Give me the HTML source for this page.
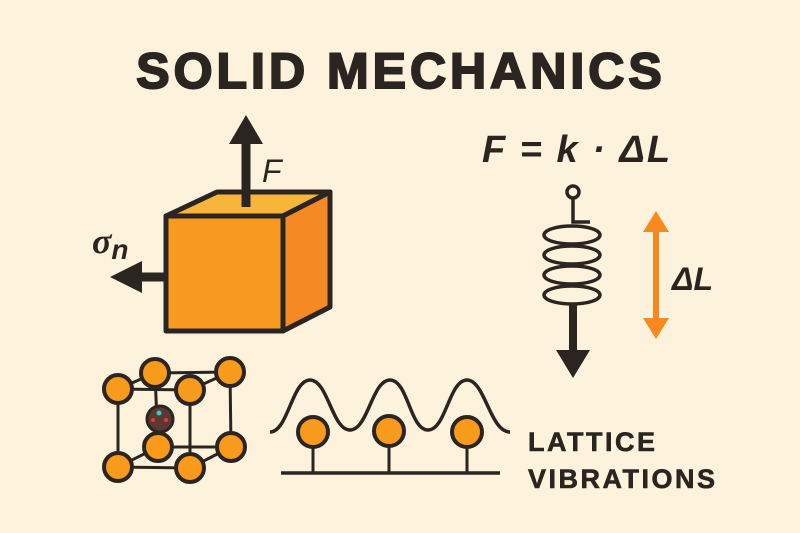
<!DOCTYPE html>
<html><head><style>html,body{margin:0;padding:0;background:#fdf2dc}svg{display:block}</style></head><body>
<svg width="800" height="533" viewBox="0 0 800 533" xmlns="http://www.w3.org/2000/svg">
<rect width="800" height="533" fill="#fdf2dc"/>
<text x="401" y="88" text-anchor="middle" font-family="Liberation Sans, sans-serif" font-weight="900" font-size="50" fill="#2b2522" letter-spacing="4" stroke="#2b2522" stroke-width="2">SOLID MECHANICS</text>
<text x="482" y="162" font-family="Liberation Sans, sans-serif" font-weight="bold" font-style="italic" font-size="38" fill="#2b2522" letter-spacing="2">F = k · ΔL</text>
<!-- cube -->
<g stroke="#2b2522" stroke-width="5" stroke-linejoin="round">
<polygon points="166,216 217,192 330,192 283,216" fill="#f7b53a"/>
<polygon points="283,216 330,192 330,307 283,331" fill="#f58a24"/>
<rect x="166" y="216" width="117" height="115" fill="#f89a20"/>
</g>
<line x1="246" y1="207" x2="246" y2="140" stroke="#2b2522" stroke-width="9"/>
<polygon points="246,115 229,144 263,144" fill="#2b2522"/>
<text x="262" y="182" font-family="Liberation Sans, sans-serif" font-style="italic" font-size="32" fill="#2b2522">F</text>
<line x1="166" y1="277" x2="128" y2="277" stroke="#2b2522" stroke-width="9"/>
<polygon points="110,277 142,261 142,293" fill="#2b2522"/>
<text x="92" y="253" font-family="Liberation Serif, serif" font-style="italic" font-weight="bold" font-size="36" fill="#2b2522">σ<tspan font-family="Liberation Sans, sans-serif" font-size="28" dy="6">n</tspan></text>
<!-- spring -->
<g fill="none" stroke="#2b2522" stroke-width="3.5">
<circle cx="573" cy="192" r="6"/>
<polyline points="573,198 573,222 590,222"/>
<ellipse cx="572" cy="235" rx="28" ry="9"/>
<ellipse cx="572" cy="255" rx="28" ry="9"/>
<ellipse cx="572" cy="275" rx="28" ry="9"/>
<ellipse cx="572" cy="295" rx="28" ry="9"/>
</g>
<line x1="573" y1="303" x2="573" y2="352" stroke="#2b2522" stroke-width="8"/>
<polygon points="573,378 556,350 590,350" fill="#2b2522"/>
<line x1="656" y1="225" x2="656" y2="325" stroke="#f7891f" stroke-width="6"/>
<polygon points="656,211 643,232 669,232" fill="#f7891f"/>
<polygon points="656,339 643,318 669,318" fill="#f7891f"/>
<text x="672" y="290" font-family="Liberation Sans, sans-serif" font-weight="bold" font-style="italic" font-size="32" fill="#2b2522">ΔL</text>
<!-- lattice -->
<g stroke="#2b2522" stroke-width="3" fill="none">
<polyline points="118,389 155,373 230,372 190,390 118,389"/>
<polyline points="118,467 158,447 231,447 190,468 118,467"/>
<line x1="118" y1="389" x2="118" y2="467"/><line x1="190" y1="390" x2="190" y2="468"/>
<line x1="230" y1="372" x2="231" y2="447"/><line x1="155" y1="373" x2="158" y2="447"/>
</g>
<g fill="#f89a1c" stroke="#2b2522" stroke-width="4">
<circle cx="155" cy="373" r="14"/><circle cx="230" cy="372" r="14"/>
<circle cx="118" cy="389" r="14"/><circle cx="190" cy="390" r="14"/>
<circle cx="158" cy="447" r="14"/><circle cx="231" cy="447" r="14"/>
<circle cx="118" cy="467" r="14"/><circle cx="190" cy="468" r="14"/>
</g>
<circle cx="160" cy="419" r="13" fill="#5a3a30" stroke="#2b2522" stroke-width="3"/>
<circle cx="159" cy="413" r="2.5" fill="#3cc"/><circle cx="153" cy="420" r="2" fill="#e33"/><circle cx="166" cy="420" r="2" fill="#e33"/>
<!-- wave -->
<path d="M270,432 C288,432 292,380 310,380 C328,380 332,430 350,430 C368,430 372,380 390,380 C408,380 410,430 428,430 C446,430 449,380 467,380 C485,380 490,432 510,432" fill="none" stroke="#2b2522" stroke-width="3.5"/>
<line x1="281" y1="473" x2="500" y2="473" stroke="#2b2522" stroke-width="3.5"/>
<g stroke="#2b2522" stroke-width="3"><line x1="313" y1="440" x2="313" y2="473"/><line x1="389" y1="440" x2="389" y2="473"/><line x1="467" y1="440" x2="467" y2="473"/></g>
<g fill="#f89a1c" stroke="#2b2522" stroke-width="4">
<circle cx="313" cy="432" r="15"/><circle cx="389" cy="431" r="15"/><circle cx="467" cy="432" r="15"/>
</g>
<g font-family="Liberation Sans, sans-serif" font-weight="bold" font-size="27" fill="#2b2522" letter-spacing="2.5" stroke="#2b2522" stroke-width="0.6">
<text x="528" y="451">LATTICE</text>
<text x="528" y="488">VIBRATIONS</text>
</g>
</svg>
</body></html>
